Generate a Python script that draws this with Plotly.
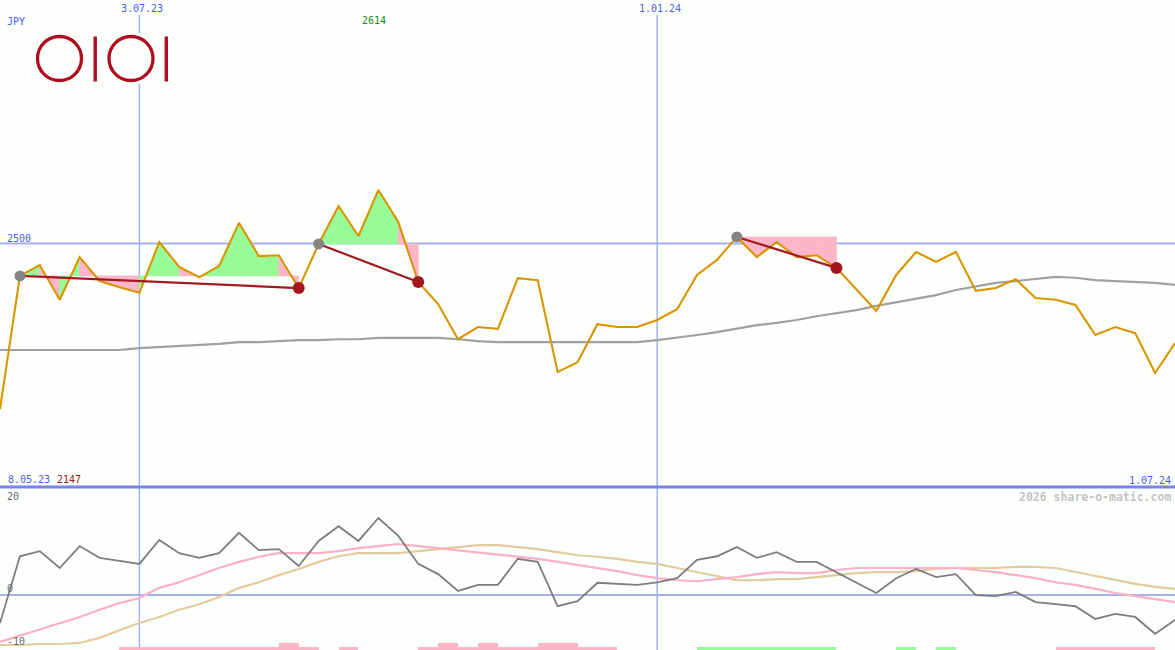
import plotly.graph_objects as go

# ---------------- data ----------------
currency = "JPY"
start_label = "8.05.23"
end_label = "1.07.24"
vline_index = [7, 33]
vline_labels = ["3.07.23", "1.01.24"]
ref_level = 2500

price = [2147, 2431, 2454, 2380, 2471, 2420, 2407, 2395, 2503, 2450,
         2428, 2452, 2544, 2473, 2475, 2405, 2499, 2580, 2516, 2614,
         2546, 2418, 2371, 2296, 2322, 2318, 2426, 2422, 2226, 2247,
         2328, 2322, 2322, 2337, 2360, 2433, 2465, 2514, 2471, 2503,
         2471, 2475, 2448, 2403, 2356, 2433, 2482, 2461, 2482, 2399,
         2405, 2424, 2384, 2380, 2369, 2305, 2322, 2309, 2224, 2288]

ma_long = [2273, 2273, 2273, 2273, 2273, 2273, 2273, 2277, 2279, 2282,
           2284, 2286, 2290, 2290, 2292, 2294, 2294, 2296, 2296, 2299,
           2299, 2299, 2299, 2296, 2292, 2290, 2290, 2290, 2290, 2290,
           2290, 2290, 2290, 2294, 2299, 2305, 2311, 2318, 2326, 2331,
           2337, 2345, 2352, 2358, 2367, 2375, 2382, 2390, 2401, 2409,
           2416, 2420, 2424, 2429, 2427, 2422, 2420, 2418, 2416, 2412]

trend_start = [1, 16, 37]
trend_end = [15, 21, 42]

osc = [-5.5, 7.6, 8.6, 5.3, 9.6, 7.3, 6.7, 6.1, 10.8, 8.2,
       7.3, 8.2, 12.2, 8.8, 9.0, 5.7, 10.6, 13.5, 10.6, 15.1,
       11.6, 6.1, 4.1, 0.8, 2.0, 2.0, 7.1, 6.5, -2.2, -1.2,
       2.4, 2.2, 2.0, 2.5, 3.3, 6.9, 7.6, 9.4, 7.3, 8.4,
       6.5, 6.5, 4.5, 2.5, 0.4, 3.3, 5.1, 3.5, 4.1, 0.0,
       -0.2, 0.6, -1.4, -1.8, -2.2, -4.7, -3.7, -4.3, -7.6, -4.9]

osc_fast = [-9.2, -8.0, -6.7, -5.5, -4.3, -2.9, -1.6, -0.6, 1.4, 2.5,
            3.9, 5.3, 6.5, 7.5, 8.2, 8.2, 8.2, 8.6, 9.2, 9.6,
            10.0, 9.6, 9.2, 8.8, 8.4, 8.0, 7.6, 7.1, 6.5, 5.9,
            5.3, 4.7, 3.9, 3.3, 2.9, 2.7, 3.1, 3.5, 4.1, 4.5,
            4.3, 4.3, 4.9, 5.3, 5.3, 5.3, 5.3, 5.3, 5.3, 4.9,
            4.5, 3.9, 3.3, 2.5, 2.0, 1.2, 0.4, -0.2, -0.8, -1.4]

osc_slow = [-9.8, -9.8, -9.6, -9.6, -9.4, -8.4, -6.9, -5.5, -4.3, -2.9,
            -1.8, -0.4, 1.4, 2.5, 3.9, 5.1, 6.5, 7.6, 8.2, 8.2,
            8.2, 8.6, 9.0, 9.4, 9.8, 9.8, 9.4, 9.0, 8.4, 7.8,
            7.5, 7.1, 6.5, 6.1, 5.3, 4.5, 3.7, 2.9, 2.9, 3.1,
            3.1, 3.5, 3.9, 4.3, 4.5, 4.5, 4.7, 5.1, 5.3, 5.3,
            5.3, 5.5, 5.5, 5.3, 4.5, 3.7, 2.9, 2.2, 1.6, 1.2]

signal = [0, 0, 0, 0, 0, 0,
          -1, -1, -1, -1, -1, -1, -1, -1, -2, -1,
          0, -1, 0, 0, 0,
          -1, -2, -1, -2, -1, -1, -2, -2, -1, -1,
          0, 0, 0, 0,
          1, 1, 1, 1, 1, 1, 1,
          0, 0, 0,
          1, 0, 1, 0,
          0, 0, 0, 0,
          -1, -1, -1, -1, -1,
          0]

osc_labels = [20, 0, -10]

# ---------------- styling ----------------
W, H = 1175, 650
SPLIT = 163 / 650
BG = "#fdfffd"
GREEN = "#98fb98"
PINK = "#fdb6c9"
GOLD = "#d99400"
DARKRED = "#a11a22"
BLUE_TXT = "#4b5cf0"
BLUE_LINE = "#a3b1f3"
FONT = "DejaVu Sans Mono"

n = len(price)
idx = list(range(n))
y_top_rng = [1981.1, 3018.9]
y_bot_rng = [-10.78, 21.18]


def px_x(x):
    return x / W


def px_y(y):
    return 1 - y / H


fig = go.Figure()

# fills between price and each trend's starting level
for s, e in zip(trend_start, trend_end):
    base = price[s]
    for i in range(s, e):
        col = GREEN if price[i + 1] >= base else PINK
        fig.add_trace(go.Scatter(
            x=[i, i, i + 1, i + 1, i],
            y=[base, price[i], price[i + 1], base, base],
            mode="lines", fill="toself", fillcolor=col,
            line=dict(width=0.8, color=col), hoverinfo="skip", showlegend=False))

fig.add_trace(go.Scatter(x=idx, y=ma_long, mode="lines",
                         line=dict(color="#a0a0a0", width=2.2),
                         hoverinfo="skip", showlegend=False))
fig.add_trace(go.Scatter(x=idx, y=price, mode="lines",
                         line=dict(color=GOLD, width=2.1),
                         showlegend=False))

for s, e in zip(trend_start, trend_end):
    fig.add_trace(go.Scatter(x=[s, e], y=[price[s], price[e]], mode="lines",
                             line=dict(color=DARKRED, width=2.2),
                             hoverinfo="skip", showlegend=False))

fig.add_trace(go.Scatter(x=trend_start, y=[price[s] for s in trend_start],
                         mode="markers", marker=dict(color="#858585", size=11),
                         showlegend=False))
fig.add_trace(go.Scatter(x=trend_end, y=[price[e] for e in trend_end],
                         mode="markers", marker=dict(color="#a3161c", size=12),
                         showlegend=False))

# lower panel
bar_unit = 0.65
fig.add_trace(go.Bar(
    x=[i + 0.5 for i in range(len(signal))],
    y=[abs(v) * bar_unit for v in signal],
    base=y_bot_rng[0], width=1,
    marker=dict(color=[GREEN if v > 0 else PINK for v in signal], line=dict(width=0)),
    yaxis="y2", hoverinfo="skip", showlegend=False))
fig.add_trace(go.Scatter(x=idx, y=osc_slow, mode="lines", yaxis="y2",
                         line=dict(color="#e3cb9d", width=2.2),
                         hoverinfo="skip", showlegend=False))
fig.add_trace(go.Scatter(x=idx, y=osc_fast, mode="lines", yaxis="y2",
                         line=dict(color="#fbb0c6", width=2.2),
                         hoverinfo="skip", showlegend=False))
fig.add_trace(go.Scatter(x=idx, y=osc, mode="lines", yaxis="y2",
                         line=dict(color="#7d7d7d", width=1.8),
                         hoverinfo="skip", showlegend=False))

shapes = []
for vx in vline_index:
    shapes.append(dict(type="line", xref="x", yref="paper", x0=vx, x1=vx, y0=0, y1=px_y(15),
                       line=dict(color=BLUE_LINE, width=1.5), layer="below"))
shapes.append(dict(type="line", xref="paper", yref="y", x0=0, x1=1, y0=ref_level, y1=ref_level,
                   line=dict(color=BLUE_LINE, width=2.2), layer="below"))
shapes.append(dict(type="line", xref="paper", yref="y2", x0=0, x1=1, y0=0, y1=0,
                   line=dict(color=BLUE_LINE, width=2.2), layer="below"))
shapes.append(dict(type="line", xref="paper", yref="paper", x0=0, x1=1, y0=SPLIT, y1=SPLIT,
                   line=dict(color="#7584ee", width=3), layer="above"))

# logo (with its own opaque background box)
LOGO = "#af0c20"
shapes.append(dict(type="rect", xref="paper", yref="paper",
                   x0=px_x(30), x1=px_x(176), y0=px_y(84), y1=px_y(33),
                   fillcolor=BG, line=dict(width=0), layer="above"))
for cx in (59.5, 131.0):
    shapes.append(dict(type="circle", xref="paper", yref="paper",
                       x0=px_x(cx - 22), x1=px_x(cx + 22), y0=px_y(58.5 + 22), y1=px_y(58.5 - 22),
                       line=dict(color=LOGO, width=3.3), layer="above"))
for bx in (95.2, 166.3):
    shapes.append(dict(type="rect", xref="paper", yref="paper",
                       x0=px_x(bx - 1.7), x1=px_x(bx + 1.7), y0=px_y(81.5), y1=px_y(36.5),
                       fillcolor=LOGO, line=dict(width=0), layer="above"))

ann = []


def add_text(text, x, y, color, xanchor="left", size=10, xref="paper", yref="paper",
             xshift=0, yshift=0, bold=False):
    ann.append(dict(text=f"<b>{text}</b>" if bold else text, x=x, y=y, xref=xref, yref=yref,
                    xanchor=xanchor, yanchor="middle", showarrow=False,
                    xshift=xshift, yshift=yshift,
                    font=dict(family=FONT, size=size, color=color)))


add_text(currency, px_x(5), px_y(21.5), BLUE_TXT)
for vx, lab in zip(vline_index, vline_labels):
    add_text(lab, vx, px_y(9), BLUE_TXT, xanchor="center", xref="x", xshift=3)
imax = price.index(max(price))
add_text(str(max(price)), imax, px_y(21), "#1a8a1a", xanchor="center", xref="x", xshift=-4)
add_text(str(ref_level), px_x(5), ref_level, BLUE_TXT, yref="y", yshift=5.5)
add_text(start_label, px_x(6), px_y(479), BLUE_TXT)
add_text(str(min(price)), px_x(55), px_y(479), "#a01818")
add_text(end_label, px_x(1173), px_y(480), BLUE_TXT, xanchor="right")
add_text("2026 share-o-matic.com", px_x(1173), px_y(496.5), "#c4c4c4", xanchor="right",
         size=11.5, bold=True)
for v, ypx in zip(osc_labels, (496, 588.5, 641)):
    add_text(str(v), px_x(5), px_y(ypx), "#6a6a6a")

fig.update_layout(
    width=W, height=H, autosize=False,
    margin=dict(l=0, r=0, t=0, b=0, pad=0),
    paper_bgcolor=BG, plot_bgcolor=BG,
    showlegend=False, barmode="overlay", bargap=0,
    xaxis=dict(range=[0, n - 1], visible=False, showgrid=False, zeroline=False, fixedrange=True),
    yaxis=dict(domain=[SPLIT, 1], range=y_top_rng, visible=False, showgrid=False, zeroline=False),
    yaxis2=dict(domain=[0, SPLIT], range=y_bot_rng, anchor="x", visible=False,
                showgrid=False, zeroline=False),
    shapes=shapes, annotations=ann,
)

fig.write_html("out.html", config={"displayModeBar": False},
               post_script="document.body.style.margin='0';document.body.style.overflow='hidden';")
